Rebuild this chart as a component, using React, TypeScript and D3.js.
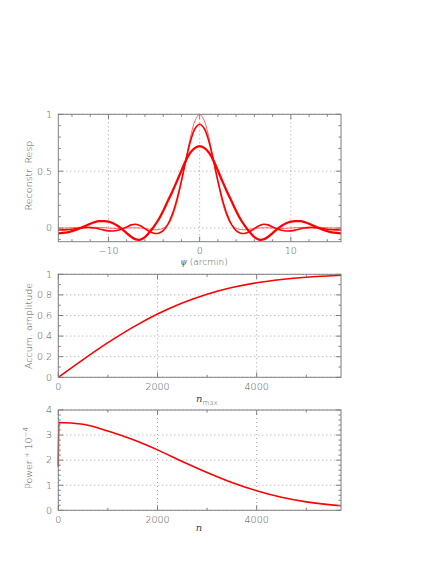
import React from "react";
import * as d3 from "d3";

// ---------- data ----------
const psi = [-15.5,-15,-14.5,-14,-13.5,-13,-12.5,-12,-11.5,-11,-10.5,-10,-9.5,-9,-8.5,-8,-7.5,-7,-6.5,-6,-5.5,-5,-4.5,-4,-3.5,-3,-2.5,-2,-1.5,-1,-0.5,0,0.5,1,1.5,2,2.5,3,3.5,4,4.5,5,5.5,6,6.5,7,7.5,8,8.5,9,9.5,10,10.5,11,11.5,12,12.5,13,13.5,14,14.5,15,15.5];
const respThick = [-0.047,-0.043,-0.037,-0.027,-0.014,0.003,0.020,0.038,0.052,0.060,0.061,0.056,0.042,0.020,-0.010,-0.045,-0.078,-0.100,-0.102,-0.080,-0.038,0.015,0.075,0.150,0.235,0.320,0.410,0.505,0.595,0.665,0.705,0.720,0.705,0.665,0.595,0.505,0.410,0.320,0.235,0.150,0.075,0.015,-0.038,-0.080,-0.102,-0.100,-0.078,-0.045,-0.010,0.020,0.042,0.056,0.061,0.060,0.052,0.038,0.020,0.003,-0.014,-0.027,-0.037,-0.043,-0.047];
const respMedium = [-0.017,-0.016,-0.014,-0.010,-0.005,0.000,0.004,0.004,0.000,-0.008,-0.018,-0.025,-0.026,-0.020,-0.008,0.010,0.028,0.033,0.020,-0.005,-0.030,-0.046,-0.045,-0.022,0.030,0.120,0.250,0.415,0.600,0.765,0.875,0.912,0.875,0.765,0.600,0.415,0.250,0.120,0.030,-0.022,-0.045,-0.046,-0.030,-0.005,0.020,0.033,0.028,0.010,-0.008,-0.020,-0.026,-0.025,-0.018,-0.008,0.000,0.004,0.004,0.000,-0.005,-0.010,-0.014,-0.016,-0.017];
const respThin = [0.000,0.000,0.001,0.003,0.005,0.007,0.008,0.007,0.006,0.005,0.003,0.000,-0.002,-0.003,-0.002,0.000,0.002,0.002,0.000,-0.004,-0.010,-0.015,-0.013,-0.002,0.030,0.100,0.225,0.400,0.605,0.800,0.945,1.000,0.945,0.800,0.605,0.400,0.225,0.100,0.030,-0.002,-0.013,-0.015,-0.010,-0.004,0.000,0.002,0.002,0.000,-0.002,-0.003,-0.002,0.000,0.003,0.005,0.006,0.007,0.008,0.007,0.005,0.003,0.001,0.000,0.000];

const nAcc = [0,500,1000,1500,2000,2500,3000,3500,4000,4500,5000,5500,5700];
const accAmp = [0,0.172,0.336,0.485,0.615,0.722,0.807,0.871,0.918,0.950,0.972,0.986,0.992];

const nPow = [0,10,500,1000,1500,2000,2500,3000,3500,4000,4500,5000,5500,5700];
const power = [1.75,3.5,3.43,3.16,2.82,2.41,1.95,1.51,1.11,0.78,0.52,0.335,0.215,0.18];

const psiTicks = [-10,0,10];
const psiMinor = [-14,-12,-8,-6,-4,-2,2,4,6,8,12,14];
const respTicks = [0,0.5,1];
const respMinor = [-0.1,0.1,0.2,0.3,0.4,0.6,0.7,0.8,0.9];
const nTicks = [0,2000,4000];
const nMinor = [1000,3000,5000];
const accTicks = [0,0.2,0.4,0.6,0.8,1];
const accMinor = [0.1,0.3,0.5,0.7,0.9];
const powTicks = [0,1,2,3,4];
const powMinor = [0.2,0.4,0.6,0.8,1.2,1.4,1.6,1.8,2.2,2.4,2.6,2.8,3.2,3.4,3.6,3.8];

// ---------- layout ----------
const L = 58.3, R = 341;
const FONT = "'DejaVu Sans', sans-serif";
const TXT = "#555";
const AX = "#808080";

type PanelProps = {
  top: number; bottom: number;
  xDomain: [number, number]; yDomain: [number, number];
  xMajor: number[]; xMinor: number[]; yMajor: number[]; yMinor: number[];
  yFmt: (v: number) => string; xFmt: (v: number) => string;
  children: (x: d3.ScaleLinear<number, number>, y: d3.ScaleLinear<number, number>) => React.ReactNode;
};

function Panel(p: PanelProps) {
  const x = d3.scaleLinear().domain(p.xDomain).range([L, R]);
  const y = d3.scaleLinear().domain(p.yDomain).range([p.bottom, p.top]);
  const maj = 5, min = 2.5;
  return (
    <g>
      {p.xMajor.map((v) => (
        <line key={"gx" + v} x1={x(v)} x2={x(v)} y1={p.top} y2={p.bottom} stroke="#8a8a8a" strokeWidth={0.8} strokeDasharray="1,3" />
      ))}
      {p.yMajor.map((v) => (
        <line key={"gy" + v} x1={L} x2={R} y1={y(v)} y2={y(v)} stroke="#8a8a8a" strokeWidth={0.8} strokeDasharray="1,3" />
      ))}
      <g>{p.children(x, y)}</g>
      <rect x={L} y={p.top} width={R - L} height={p.bottom - p.top} fill="none" stroke={AX} strokeWidth={1} />
      <line x1={R + 0.5} x2={R + 0.5} y1={p.top} y2={p.bottom} stroke="#bbb" strokeWidth={1} />
      {p.xMajor.concat(p.xMinor).map((v) => {
        const len = p.xMajor.includes(v) ? maj : min;
        return (
          <g key={"tx" + v}>
            <line x1={x(v)} x2={x(v)} y1={p.bottom} y2={p.bottom - len} stroke={AX} strokeWidth={1} />
            <line x1={x(v)} x2={x(v)} y1={p.top} y2={p.top + len} stroke={AX} strokeWidth={1} />
          </g>
        );
      })}
      {p.yMajor.concat(p.yMinor).map((v) => {
        const len = p.yMajor.includes(v) ? maj : min;
        return (
          <g key={"ty" + v}>
            <line x1={L} x2={L + len} y1={y(v)} y2={y(v)} stroke={AX} strokeWidth={1} />
            <line x1={R} x2={R - len} y1={y(v)} y2={y(v)} stroke={AX} strokeWidth={1} />
          </g>
        );
      })}
      {p.xMajor.map((v) => (
        <text key={"lx" + v} x={x(v)} y={p.bottom + 12.5} textAnchor="middle" fontSize={9.5} fontFamily={FONT} fontWeight={200} fill={TXT}>
          {p.xFmt(v)}
        </text>
      ))}
      {p.yMajor.map((v) => (
        <text key={"ly" + v} x={52} y={y(v)} dy="0.35em" textAnchor="end" fontSize={9.5} fontFamily={FONT} fontWeight={200} fill={TXT}>
          {p.yFmt(v)}
        </text>
      ))}
    </g>
  );
}

const fmtSigned = (v: number) => (v < 0 ? "\u2212" + Math.abs(v) : String(v));

export default function App() {
  const line = (xs: number[], ys: number[], x: any, y: any, curve: any) =>
    d3.line<number>().x((_, i) => x(xs[i])).y((d) => y(d)).curve(curve)(ys) || "";

  return (
    <svg width={436} height={564} style={{ position: "absolute", left: 0, top: 0, background: "#fff" }}>
      <Panel top={114.3} bottom={241.7} xDomain={[-15.5, 15.5]} yDomain={[-0.12, 1.0]}
        xMajor={psiTicks} xMinor={psiMinor} yMajor={respTicks} yMinor={respMinor}
        xFmt={fmtSigned} yFmt={(v) => String(v)}>
        {(x, y) => (
          <g>
            <path d={line(psi, respThin, x, y, d3.curveCatmullRom.alpha(0.5))} fill="none" stroke="#ff0000" strokeOpacity={0.6} strokeWidth={1} />
            <path d={line(psi, respMedium, x, y, d3.curveCatmullRom.alpha(0.5))} fill="none" stroke="#ff0000" strokeWidth={1.6} />
            <path d={line(psi, respThick, x, y, d3.curveCatmullRom.alpha(0.5))} fill="none" stroke="#ff0000" strokeWidth={2.3} />
          </g>
        )}
      </Panel>
      <Panel top={274.3} bottom={377.3} xDomain={[0, 5700]} yDomain={[0, 1]}
        xMajor={nTicks} xMinor={nMinor} yMajor={accTicks} yMinor={accMinor}
        xFmt={(v) => String(v)} yFmt={(v) => String(v)}>
        {(x, y) => (
          <path d={line(nAcc, accAmp, x, y, d3.curveMonotoneX)} fill="none" stroke="#ff0000" strokeWidth={1.6} />
        )}
      </Panel>
      <Panel top={410} bottom={510.3} xDomain={[0, 5700]} yDomain={[0, 4]}
        xMajor={nTicks} xMinor={nMinor} yMajor={powTicks} yMinor={powMinor}
        xFmt={(v) => String(v)} yFmt={(v) => String(v)}>
        {(x, y) => (
          <path d={line(nPow, power, x, y, d3.curveMonotoneX)} fill="none" stroke="#ff0000" strokeWidth={1.6} />
        )}
      </Panel>

      {/* axis titles */}
      <text x={204} y={264.5} textAnchor="middle" fontSize={9} fontFamily={FONT} fontWeight={200} fill={TXT}>
        <tspan fontStyle="italic" fontFamily="'DejaVu Serif', serif" fontSize={8.5}>ψ</tspan> (arcmin)
      </text>
      <text x={196} y={402} fontSize={10} fontFamily="'DejaVu Serif', serif" fontStyle="italic" fill="#444">
        n<tspan fontSize={7} dy={3} fontStyle="normal" fontFamily={FONT} fontWeight={200} fill={TXT}>max</tspan>
      </text>
      <text x={199} y={531} textAnchor="middle" fontSize={10} fontFamily="'DejaVu Serif', serif" fontStyle="italic" fill="#444">n</text>

      <text transform="translate(32,174) rotate(-90)" textAnchor="middle" fontSize={9.5} fontFamily={FONT} fontWeight={200} fill={TXT}>
        Reconstr. Resp.
      </text>
      <text transform="translate(32,326) rotate(-90)" textAnchor="middle" fontSize={9.5} fontFamily={FONT} fontWeight={200} fill={TXT}>
        Accum. amplitude
      </text>
      <text transform="translate(32,458) rotate(-90)" textAnchor="middle" fontSize={9.5} fontFamily={FONT} fontWeight={200} fill={TXT}>
        Power  *  10<tspan fontSize={7} dy={-4}>−4</tspan>
      </text>
    </svg>
  );
}
